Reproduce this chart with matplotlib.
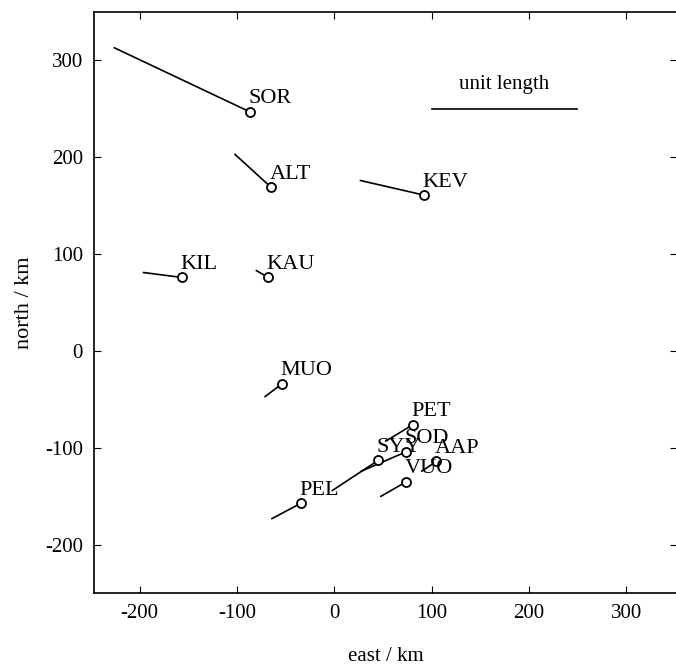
import numpy as np
import matplotlib.pyplot as plt

plt.rcParams['font.family'] = ['Liberation Serif', 'DejaVu Serif']
plt.rcParams['axes.unicode_minus'] = False

# Stations: positions (east, north) in km and the other end of each vector
stations = ['SOR', 'ALT', 'KEV', 'KIL', 'KAU', 'MUO', 'PET', 'SOD', 'SYY', 'AAP', 'VUO', 'PEL']
east = [-87, -65, 92, -157, -68, -54, 81, 74, 45, 105, 74, -34]
north = [247, 169, 161, 76, 76, -34, -76, -104, -113, -114, -135, -157]
end_east = [-226, -102, 27, -196, -80, -71, 53, 28, -2, 90, 48, -64]
end_north = [313, 203, 176, 81, 83, -47, -93, -124, -144, -124, -150, -173]

# unit length bar
unit_x = [100, 250]
unit_y = [250, 250]

fig = plt.figure(figsize=(6.76, 6.65), dpi=100)
ax = fig.add_axes([0.139, 0.108, 0.862, 0.874])

for i in range(len(stations)):
    ax.plot([east[i], end_east[i]], [north[i], end_north[i]], color='black', lw=1.2)
ax.plot(east, north, 'o', mfc='white', mec='black', mew=1.3, ms=6.5, ls='none')
for i, name in enumerate(stations):
    ax.annotate(name, (east[i], north[i]), xytext=(-1, 2.5), textcoords='offset points',
                ha='left', va='bottom', fontsize=16)

ax.plot(unit_x, unit_y, color='black', lw=1.2)
ax.text(np.mean(unit_x), 265, 'unit length', ha='center', va='bottom', fontsize=15)

ax.set_xlim(-247, 352)
ax.set_ylim(-250, 350)
ax.set_xticks([-200, -100, 0, 100, 200, 300])
ax.set_yticks([-200, -100, 0, 100, 200, 300])
ax.tick_params(direction='in', top=True, right=True, labelsize=15, length=5, pad=8)
for s in ax.spines.values():
    s.set_linewidth(1.2)
ax.set_xlabel('east / km', fontsize=15, labelpad=17)
ax.set_ylabel('north / km', fontsize=16, labelpad=8)

fig.savefig('out.png', dpi=100)
